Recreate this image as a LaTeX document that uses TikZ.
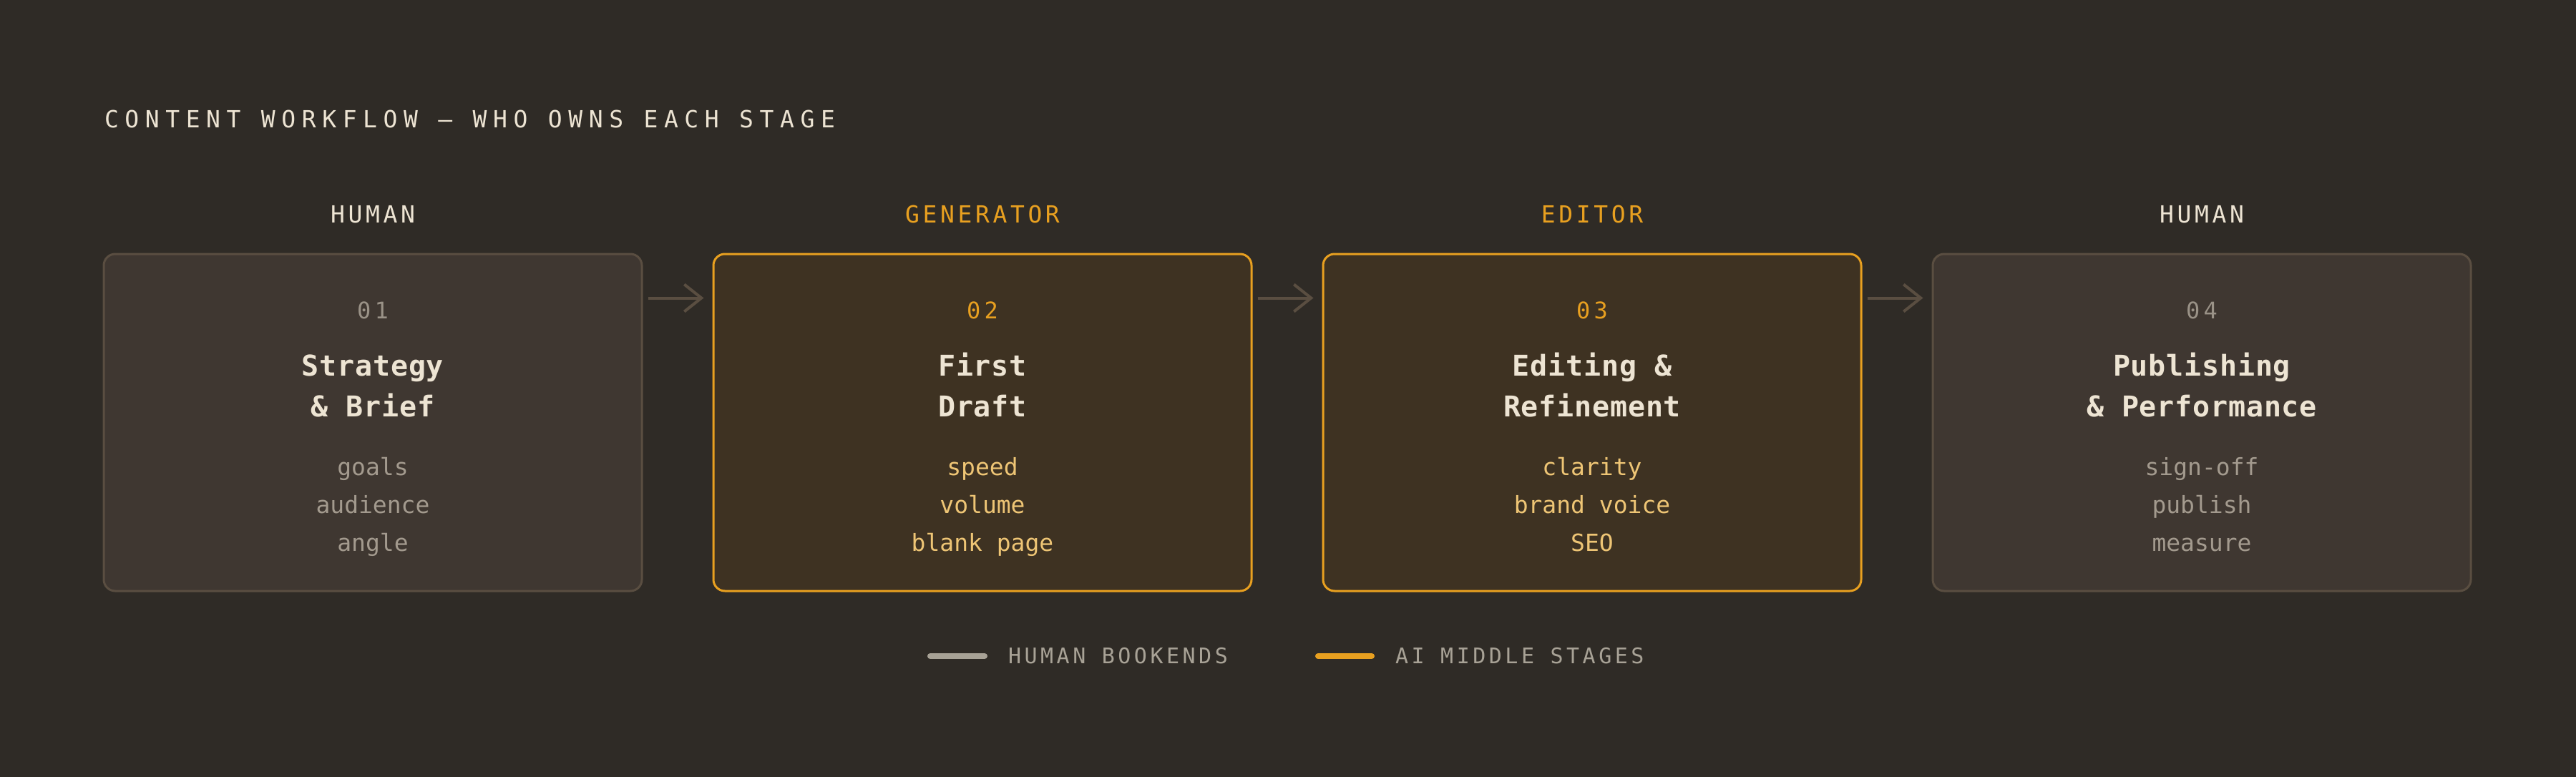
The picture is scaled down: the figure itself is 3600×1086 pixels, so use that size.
\documentclass[tikz,border=0pt]{standalone}
\usepackage{fontspec}
\usetikzlibrary{arrows.meta,calc}
\newfontfamily\monoTitle[LetterSpace=26]{DejaVu Sans Mono}
\newfontfamily\monoNum[LetterSpace=17]{DejaVu Sans Mono}
\newfontfamily\monoLab[LetterSpace=14]{DejaVu Sans Mono}
\newfontfamily\monoLeg[LetterSpace=15]{DejaVu Sans Mono}
\newfontfamily\monoPlain{DejaVu Sans Mono}
\newfontfamily\monoHead[LetterSpace=2]{DejaVu Sans Mono}
\definecolor{bgc}{HTML}{2F2B26}
\definecolor{hfill}{HTML}{3F3731}
\definecolor{hborder}{HTML}{5A4E41}
\definecolor{afill}{HTML}{3E3222}
\definecolor{aorange}{HTML}{E8A020}
\definecolor{cream}{HTML}{EDE4D3}
\definecolor{grayitem}{HTML}{A39A8E}
\definecolor{numgray}{HTML}{9A9287}
\definecolor{aiitem}{HTML}{EEC575}
\definecolor{leggray}{HTML}{A8A296}
\tikzset{
  stagebox/.style={rectangle, rounded corners=16pt, minimum width=752pt, minimum height=471pt, line width=3pt, inner sep=0pt},
  humanbox/.style={stagebox, draw=hborder, fill=hfill},
  aibox/.style={stagebox, draw=aorange, fill=afill},
  txt/.style={anchor=base, inner sep=0pt, outer sep=0pt},
  pagetitle/.style={txt, anchor=base west, text=cream, font=\monoTitle\fontsize{33}{33}\selectfont},
  ownerlab/.style={txt, font=\monoLab\fontsize{33}{33}\selectfont},
  numlab/.style={txt, font=\monoNum\fontsize{32}{32}\selectfont},
  headlab/.style={txt, text=cream, font=\monoHead\bfseries\fontsize{40}{40}\selectfont},
  itemlab/.style={txt, font=\monoPlain\fontsize{33}{33}\selectfont},
  legtext/.style={txt, anchor=base west, text=leggray, font=\monoLeg\fontsize{30}{30}\selectfont},
  flowarrow/.style={draw=hborder, line width=4pt, -{Straight Barb[length=24pt,width=38pt]}},
  legline/.style={line width=8pt, line cap=round},
}
\begin{document}
\begin{tikzpicture}[x=1pt,y=-1pt]
\fill[bgc] (0,0) rectangle (3600,1086);
\useasboundingbox (0,0) rectangle (3600,1086);

\node[pagetitle] (title) at (146,179) {CONTENT WORKFLOW — WHO OWNS EACH STAGE};

% boxes
\node[humanbox] (b1) at (521,590.5) {};
\node[aibox]    (b2) at (1373,590.5) {};
\node[aibox]    (b3) at (2225,590.5) {};
\node[humanbox] (b4) at (3077,590.5) {};

% owner labels
\node[ownerlab, text=cream]   (o1) at (521,311) {HUMAN};
\node[ownerlab, text=aorange] (o2) at (1373,311) {GENERATOR};
\node[ownerlab, text=aorange] (o3) at (2225,311) {EDITOR};
\node[ownerlab, text=cream]   (o4) at (3077,311) {HUMAN};

% numbers
\node[numlab, text=numgray] (n1) at (521,445) {01};
\node[numlab, text=aorange] (n2) at (1373,445) {02};
\node[numlab, text=aorange] (n3) at (2225,445) {03};
\node[numlab, text=numgray] (n4) at (3077,445) {04};

% headings
\node[headlab] (h1a) at (521,525) {Strategy};
\node[headlab] (h1b) at (521,582) {\& Brief};
\node[headlab] (h2a) at (1373,525) {First};
\node[headlab] (h2b) at (1373,582) {Draft};
\node[headlab] (h3a) at (2225,525) {Editing \&};
\node[headlab] (h3b) at (2225,582) {Refinement};
\node[headlab] (h4a) at (3077,525) {Publishing};
\node[headlab] (h4b) at (3077,582) {\& Performance};

% items
\node[itemlab, text=grayitem] (i1a) at (521,664) {goals};
\node[itemlab, text=grayitem] (i1b) at (521,717) {audience};
\node[itemlab, text=grayitem] (i1c) at (521,770) {angle};
\node[itemlab, text=aiitem] (i2a) at (1373,664) {speed};
\node[itemlab, text=aiitem] (i2b) at (1373,717) {volume};
\node[itemlab, text=aiitem] (i2c) at (1373,770) {blank page};
\node[itemlab, text=aiitem] (i3a) at (2225,664) {clarity};
\node[itemlab, text=aiitem] (i3b) at (2225,717) {brand voice};
\node[itemlab, text=aiitem] (i3c) at (2225,770) {SEO};
\node[itemlab, text=grayitem] (i4a) at (3077,664) {sign-off};
\node[itemlab, text=grayitem] (i4b) at (3077,717) {publish};
\node[itemlab, text=grayitem] (i4c) at (3077,770) {measure};

% arrows
\draw[flowarrow] ($(b1.north east)+(7,63)$) -- ($(b2.north west)+(-12,63)$);
\draw[flowarrow] ($(b2.north east)+(7,63)$) -- ($(b3.north west)+(-12,63)$);
\draw[flowarrow] ($(b3.north east)+(7,63)$) -- ($(b4.north west)+(-12,63)$);

% legend
\coordinate (lh1) at (1300,917);
\coordinate (lh2) at (1376,917);
\coordinate (la1) at (1842,917);
\coordinate (la2) at (1917,917);
\draw[legline, draw=leggray] (lh1) -- (lh2);
\draw[legline, draw=aorange] (la1) -- (la2);
\node[legtext] (lt1) at (1409,927) {HUMAN BOOKENDS};
\node[legtext] (lt2) at (1950,927) {AI MIDDLE STAGES};
\end{tikzpicture}
\end{document}
